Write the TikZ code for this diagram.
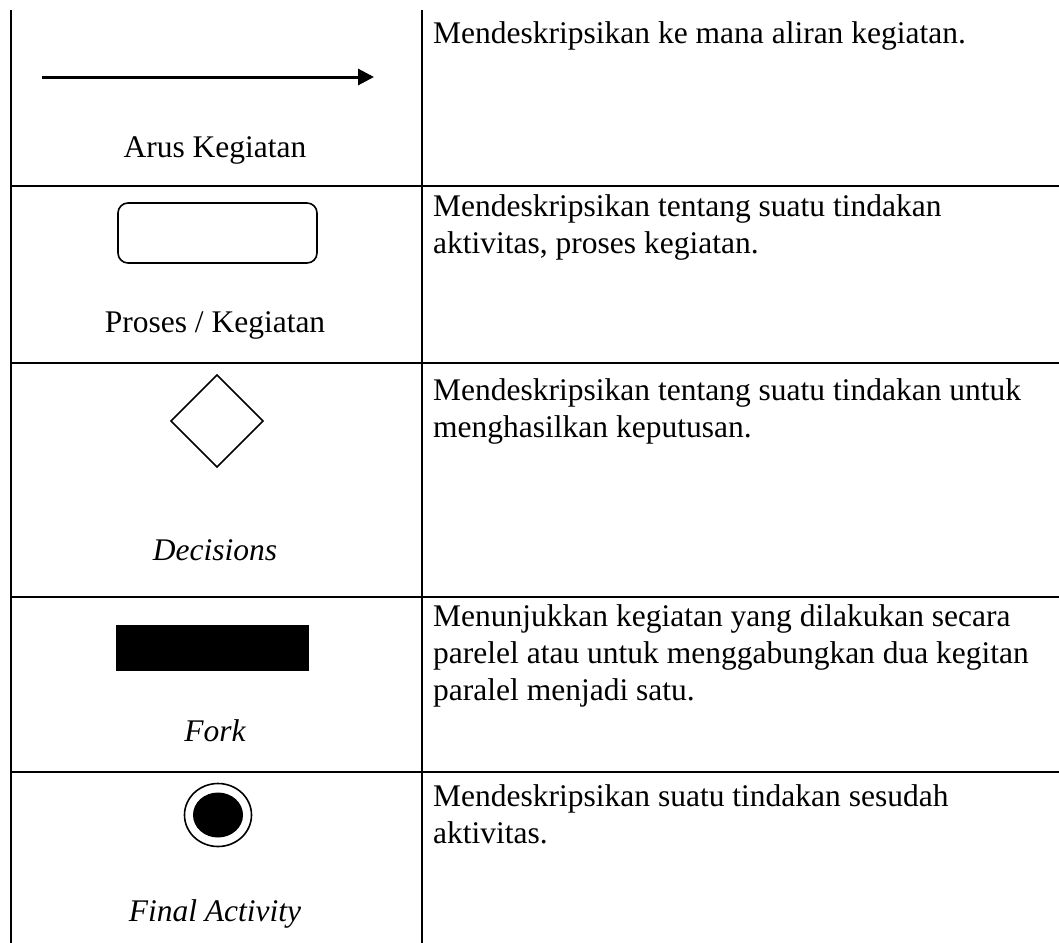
\documentclass[tikz,border=0pt]{standalone}
\usepackage{fontspec}
\setmainfont{Liberation Serif}
\usetikzlibrary{arrows.meta}
\begin{document}
\begin{tikzpicture}[x=1pt,y=-1pt,
  grid/.style={line width=2.5pt,line cap=rect},
  lbl/.style={font=\fontsize{31.5}{37}\selectfont,inner sep=0pt,anchor=base},
  ilbl/.style={lbl,font=\fontsize{31.5}{37}\selectfont\itshape},
  desc/.style={font=\fontsize{31.5}{37}\selectfont,inner sep=0pt,anchor=base west},
  shapeline/.style={line width=1.6pt}]
\useasboundingbox (0,0) rectangle (1059,942);
% grid
\coordinate (tl) at (11,11);
\coordinate (tm) at (422,11);
\coordinate (bl) at (11,942);
\coordinate (bm) at (422,942);
\draw[grid] (tl) -- (bl);
\draw[grid] (tm) -- (bm);
\foreach \y/\n in {186/a,363/b,597/c,772/d}{
  \coordinate (h\n1) at (11,\y);
  \coordinate (h\n2) at (1059,\y);
  \draw[grid] (h\n1) -- (h\n2);
}
% row 1
\coordinate (arS) at (42,77);
\coordinate (arE) at (374,77);
\draw[line width=3pt,-{Triangle[length=16pt,width=16pt]}] (arS) -- (arE);
\node[lbl] (l1) at (215,157) {Arus Kegiatan};
\node[desc] (d1) at (433,44) {Mendeskripsikan ke mana aliran kegiatan.};
% row 2
\node[shapeline,draw,rounded corners=10pt,minimum width=199pt,minimum height=60pt] (proc) at (217.5,233) {};
\node[lbl] (l2) at (215,332) {Proses / Kegiatan};
\node[desc] (d2a) at (433,216) {Mendeskripsikan tentang suatu tindakan};
\node[desc] (d2b) at (433,253) {aktivitas, proses kegiatan.};
% row 3
\coordinate (dT) at (217,375);
\coordinate (dR) at (263,421);
\coordinate (dB) at (217,467);
\coordinate (dL) at (171,421);
\draw[shapeline] (dT) -- (dR) -- (dB) -- (dL) -- cycle;
\node[ilbl] (l3) at (215,560) {Decisions};
\node[desc] (d3a) at (433,400) {Mendeskripsikan tentang suatu tindakan untuk};
\node[desc] (d3b) at (433,437) {menghasilkan keputusan.};
% row 4
\node[fill=black,minimum width=193pt,minimum height=46pt,inner sep=0pt] (fork) at (212.5,648) {};
\node[ilbl] (l4) at (215,741) {Fork};
\node[desc] (d4a) at (433,626) {Menunjukkan kegiatan yang dilakukan secara};
\node[desc] (d4b) at (433,663) {parelel atau untuk menggabungkan dua kegitan};
\node[desc] (d4c) at (433,700) {paralel menjadi satu.};
% row 5
\coordinate (fc) at (218,815);
\draw[shapeline] (fc) ellipse [x radius=33.5pt,y radius=31.5pt];
\fill (fc) ellipse [x radius=25pt,y radius=22.5pt];
\node[ilbl] (l5) at (215,921) {Final Activity};
\node[desc] (d5a) at (433,806) {Mendeskripsikan suatu tindakan sesudah};
\node[desc] (d5b) at (433,843) {aktivitas.};
\end{tikzpicture}
\end{document}
